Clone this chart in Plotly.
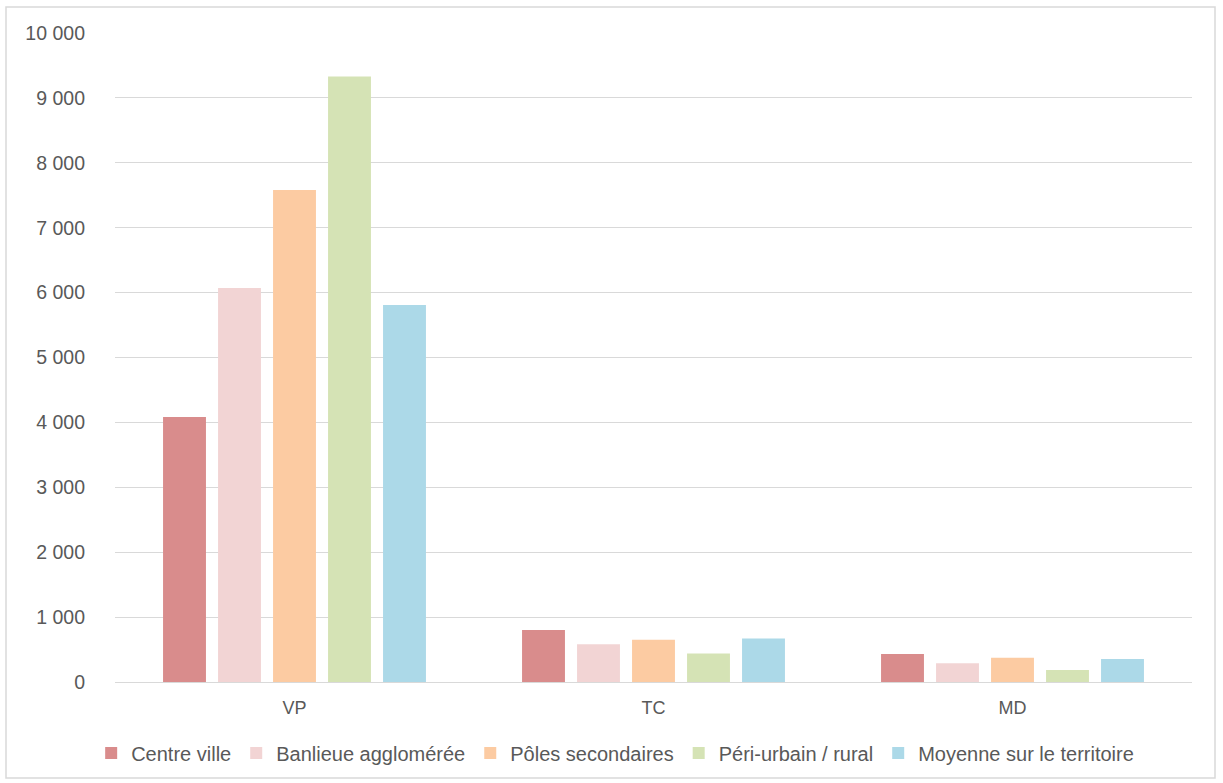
import plotly.graph_objects as go

categories = ["VP", "TC", "MD"]
series_names = ["Centre ville", "Banlieue agglomérée", "Pôles secondaires",
                "Péri-urbain / rural", "Moyenne sur le territoire"]
centre_ville = [4085, 800, 430]
banlieue = [6070, 580, 290]
poles = [7580, 650, 375]
peri_urbain = [9330, 440, 185]
moyenne = [5810, 670, 355]
y_ticks = [0, 1000, 2000, 3000, 4000, 5000, 6000, 7000, 8000, 9000, 10000]

colors = ["#D98C8C", "#F2D4D4", "#FCCBA2", "#D5E3B5", "#ACD9E8"]
values = [centre_ville, banlieue, poles, peri_urbain, moyenne]

fig = go.Figure()
for name, vals, col in zip(series_names, values, colors):
    fig.add_trace(go.Bar(x=categories, y=vals, name=name, marker_color=col,
                         marker_line_width=0))

W, H = 1223, 783
ml, mr, mt, mb = 115, 31, 33, 101
pw, ph = W - ml - mr, H - mt - mb

def px_to_paper_x(px):
    return (px - ml) / pw

def px_to_paper_y(py):
    return (H - mb - py) / ph

fig.update_layout(
    width=W, height=H,
    margin=dict(l=ml, r=mr, t=mt, b=mb),
    paper_bgcolor="white", plot_bgcolor="white",
    separators=", ",
    barmode="group", bargap=0.234, bargroupgap=0.22,
    font=dict(family="Liberation Sans, Arial, sans-serif", color="#595959", size=18),
    showlegend=True,
    legend=dict(orientation="h", xref="container", yref="container",
                x=0.503, xanchor="center", y=1 - 753 / H, yanchor="middle",
                font=dict(size=20, color="#595959"), itemwidth=30,
                tracegroupgap=0),
    xaxis=dict(showgrid=False, showline=True, linecolor="#D9D9D9", linewidth=1,
               ticks="", tickfont=dict(size=18, color="#595959"),
               ticklabelstandoff=9),
    yaxis=dict(range=[0, 10000], tickvals=y_ticks, tickformat=",d",
               showgrid=True, gridcolor="#D9D9D9", gridwidth=1,
               zeroline=False, showline=False, ticks="",
               tickfont=dict(size=19.5, color="#595959"),
               ticklabelstandoff=29),
    shapes=[dict(type="rect", xref="paper", yref="paper",
                 x0=px_to_paper_x(6), x1=px_to_paper_x(1215),
                 y0=px_to_paper_y(778), y1=px_to_paper_y(7),
                 line=dict(color="#D9D9D9", width=1.5), fillcolor="rgba(0,0,0,0)",
                 layer="below")],
)

fig.write_html("out.html")
